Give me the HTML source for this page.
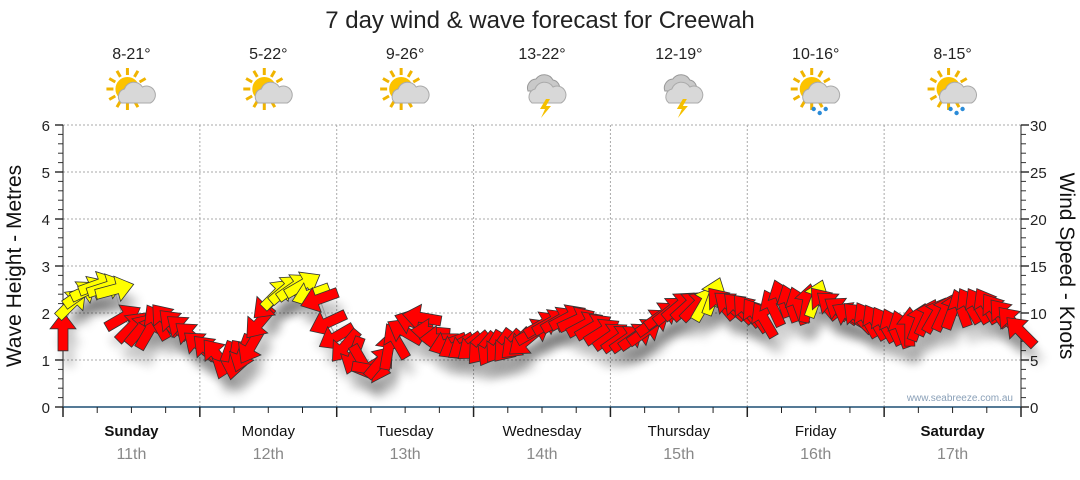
<!DOCTYPE html>
<html><head><meta charset="utf-8"><style>
body{margin:0;background:#fff;width:1080px;height:475px;overflow:hidden;font-family:"Liberation Sans",sans-serif}
</style></head><body>
<svg id="chart" width="1080" height="475" viewBox="0 0 1080 475" xmlns="http://www.w3.org/2000/svg" font-family="Liberation Sans, sans-serif">
<defs>
<filter id="sh" x="-50%" y="-50%" width="200%" height="200%"><feGaussianBlur stdDeviation="5"/></filter>
</defs>
<text x="540" y="28" text-anchor="middle" font-size="24" fill="#222">7 day wind &amp; wave forecast for Creewah</text>
<text transform="translate(21,266) rotate(-90)" text-anchor="middle" font-size="21" fill="#111">Wave Height - Metres</text>
<text transform="translate(1060,266) rotate(90)" text-anchor="middle" font-size="21" fill="#111">Wind Speed - Knots</text>
<g id="grid"></g><g id="axes"></g><g id="icons"></g><g id="shadows"></g><g id="marks"></g>
<text x="1013" y="401" text-anchor="end" font-size="10" fill="#8aa0b8">www.seabreeze.com.au</text>
</svg>
<script>
const days=["Sunday","Monday","Tuesday","Wednesday","Thursday","Friday","Saturday"];
const dates=["11th","12th","13th","14th","15th","16th","17th"];
const temps=["8-21°","5-22°","9-26°","13-22°","12-19°","10-16°","8-15°"];
const weather=["cloud","cloud","cloud","storm","storm","rain","rain"];
const waveTicks=[0,1,2,3,4,5,6];
const windTicks=[0,5,10,15,20,25,30];
const stepHours=1.5;
// every 1.5 hours, value in metres (wind knots/5)
const heights=[1.6,2.2,2.4,2.5,2.6,2.55,2.5,1.9,1.7,1.65,
1.6,1.8,1.85,1.75,1.65,1.5,1.3,1.2,1.1,1.0,
1.0,1.15,1.3,1.8,2.2,2.4,2.5,2.55,2.6,2.4,
2.3,1.8,1.5,1.3,1.1,0.95,0.8,0.95,1.2,1.4,
1.6,1.8,1.9,1.6,1.45,1.35,1.3,1.3,1.3,1.25,
1.25,1.3,1.3,1.35,1.4,1.6,1.75,1.8,1.85,1.9,
1.85,1.75,1.7,1.6,1.5,1.45,1.45,1.5,1.6,1.8,
1.95,2.05,2.15,2.15,2.15,2.2,2.35,2.2,2.15,2.1,
2.05,1.95,1.85,2.1,2.3,2.2,2.15,2.2,2.3,2.2,
2.15,2.05,1.95,1.9,1.85,1.8,1.75,1.7,1.65,1.7,
1.8,1.9,1.95,2.0,2.05,2.1,2.15,2.15,2.15,2.05,
1.95,1.8,1.6];
const dirs=[0,45,55,65,70,72,75,60,45,40,
30,330,320,315,310,310,310,315,320,200,
190,200,210,220,225,45,50,55,60,250,
250,245,240,220,200,150,100,40,10,330,
300,290,280,275,270,250,240,235,230,220,
210,215,220,225,230,60,60,60,60,62,
65,62,60,58,55,55,55,55,55,55,
55,52,50,48,45,30,20,320,310,315,
320,325,330,335,340,340,340,10,20,320,
310,305,300,315,330,330,330,335,340,0,
20,25,30,25,20,340,330,330,330,325,
320,318,315];
const colours=["r","y","y","y","y","y","y","r","r","r",
"r","r","r","r","r","r","r","r","r","r",
"r","r","r","r","r","y","y","y","y","y",
"r","r","r","r","r","r","r","r","r","r",
"r","r","r","r","r","r","r","r","r","r",
"r","r","r","r","r","r","r","r","r","r",
"r","r","r","r","r","r","r","r","r","r",
"r","r","r","r","r","y","y","r","r","r",
"r","r","r","r","r","r","r","r","y","r",
"r","r","r","r","r","r","r","r","r","r",
"r","r","r","r","r","r","r","r","r","r",
"r","r","r"];
const NS="http://www.w3.org/2000/svg";
const X0=63,X1=1021,Y0=407,Y1=125,hours=168;
const xs=h=>X0+(X1-X0)*h/hours;
const ys=v=>Y0-(Y0-Y1)*v/6;
const yk=k=>Y0-(Y0-Y1)*k/30;
function mk(tag,attrs,parent){const e=document.createElementNS(NS,tag);for(const k in attrs)e.setAttribute(k,attrs[k]);parent.appendChild(e);return e;}
const grid=document.getElementById('grid'),axes=document.getElementById('axes'),icons=document.getElementById('icons'),marks=document.getElementById('marks'),shadows=document.getElementById('shadows');
waveTicks.forEach(v=>{if(v>0){const l=mk('line',{x1:X0,x2:X1,y1:ys(v),y2:ys(v),stroke:'#aaa','stroke-dasharray':'2,2'},grid);

}
const t=mk('text',{x:50,y:ys(v)+6,'text-anchor':'end','font-size':15,fill:'#222'},axes);t.textContent=v;

});
windTicks.forEach(k=>{const t=mk('text',{x:1030,y:yk(k)+6,'font-size':15,fill:'#222'},axes);t.textContent=k;

});
for(let i=0;i<=30;i++){const y=yk(i);const big=i%5==0;
mk('line',{x1:X0-(big?8:5),x2:X0,y1:y,y2:y,stroke:'#333','stroke-width':big?1.5:1},axes);
mk('line',{x1:X1,x2:X1+(big?8:5),y1:y,y2:y,stroke:'#333','stroke-width':big?1.5:1},axes);}
mk('line',{x1:X0,x2:X0,y1:Y1,y2:Y0,stroke:'#222'},axes);
mk('line',{x1:X1,x2:X1,y1:Y1,y2:Y0,stroke:'#222'},axes);
mk('line',{x1:X0,x2:X1,y1:Y0,y2:Y0,stroke:'#1d4e74','stroke-width':1.5},axes);
for(let h=0;h<=hours;h+=6){const x=xs(h);const big=h%24==0;
mk('line',{x1:x,x2:x,y1:Y0,y2:Y0+(big?10:6),stroke:'#222','stroke-width':big?1.5:1},axes);
if(big&&h>0&&h<hours){const l=mk('line',{x1:x,x2:x,y1:Y1,y2:Y0,stroke:'#aaa','stroke-dasharray':'2,2'},grid);

}}
function icon(g,type,cx,cy){
 const sun=mk('g',{},g);
 for(let a=0;a<360;a+=30){const r=Math.PI*a/180;mk('line',{x1:cx-6+Math.cos(r)*14,y1:cy-4+Math.sin(r)*14,x2:cx-6+Math.cos(r)*21,y2:cy-4+Math.sin(r)*21,stroke:'#f0b400','stroke-width':3},sun);}
 mk('circle',{cx:cx-6,cy:cy-4,r:12,fill:'#fcc300'},sun);
 if(type=='storm'){sun.setAttribute('opacity',0);}
 if(type=='storm'){mk('path',{d:`M${cx-16},${cy-2} a9,9 0 0 1 8,-12 a10,10 0 0 1 17,1 a8,8 0 0 1 6,11 z`,fill:'#c9c9c9',stroke:'#999'},g);}
 mk('path',{d:`M${cx-12},${cy+10} a8,8 0 0 1 3,-14 a10,10 0 0 1 18,-2 a8,8 0 0 1 8,16 z`,fill:'#d8d8d8',stroke:'#aaa'},g);
 if(type=='storm')mk('path',{d:`M${cx+2},${cy+6} l-6,10 h5 l-4,9 l10,-12 h-5 l4,-7z`,fill:'#f5c000'},g);
 if(type=='rain')for(let k=0;k<3;k++)mk('circle',{cx:cx-4+k*6,cy:cy+16+(k%2)*4,r:2.2,fill:'#2a8bd8'},g);
}
days.forEach((d,i)=>{const cx=xs(24*i+12);
const t=mk('text',{x:cx,y:436,'text-anchor':'middle','font-size':15,fill:'#111','font-weight':(i==0||i==6)?'bold':'normal'},axes);t.textContent=d;


const t2=mk('text',{x:cx,y:459,'text-anchor':'middle','font-size':16,fill:'#888'},axes);t2.textContent=dates[i];


const t3=mk('text',{x:cx,y:59,'text-anchor':'middle','font-size':16,fill:'#222'},icons);t3.textContent=temps[i];


const g=mk('g',{},icons);


icon(g,weather[i],cx+2,93);});
let pts=heights.map((v,i)=>xs(i*stepHours)+','+ys(v)).join(' ');
mk('polyline',{points:pts,fill:'none',stroke:'#999','stroke-width':1},marks);
const arrowPath="M0,-20 L13,-3 L5,-3 L5,19 L-5,19 L-5,-3 L-13,-3 Z";
heights.forEach((v,i)=>{const x=xs(i*stepHours),y=ys(v);
mk('path',{d:arrowPath,transform:`translate(${x+6},${y+16}) rotate(${dirs[i]})`,fill:'#000',opacity:0.2,filter:'url(#sh)'},shadows);
const a=mk('path',{d:arrowPath,transform:`translate(${x},${y}) rotate(${dirs[i]})`,fill:colours[i]=='y'?'#ffff00':'#ff0000',stroke:'#333','stroke-width':0.8},marks);

});
</script>
</body></html>
